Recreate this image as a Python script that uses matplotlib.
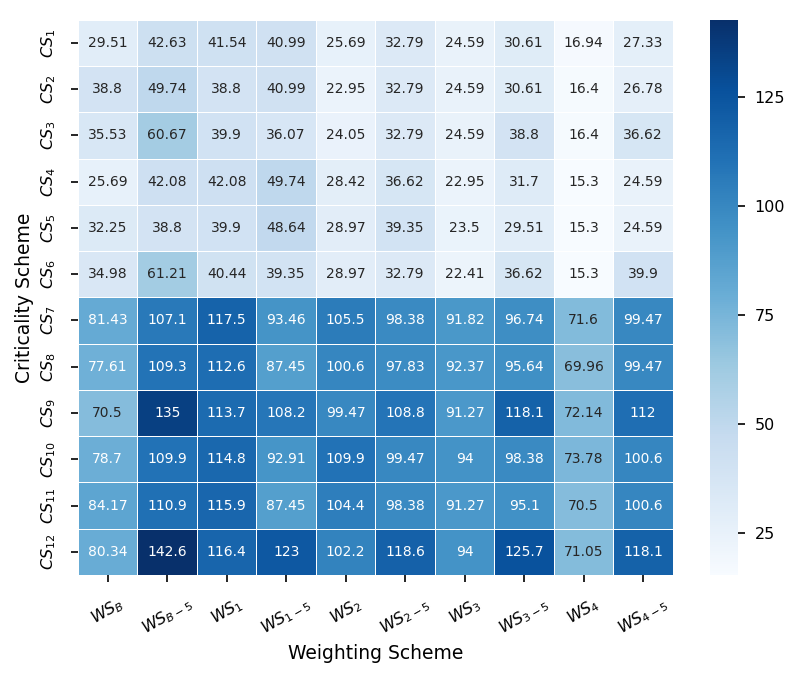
import numpy as np
import matplotlib
matplotlib.use("Agg")
import matplotlib.pyplot as plt
import seaborn as sns

# weighting schemes (columns) and criticality schemes (rows)
ws_labels = [r"$WS_{B}$", r"$WS_{B-5}$", r"$WS_{1}$", r"$WS_{1-5}$", r"$WS_{2}$",
             r"$WS_{2-5}$", r"$WS_{3}$", r"$WS_{3-5}$", r"$WS_{4}$", r"$WS_{4-5}$"]
cs_labels = [r"$CS_{%d}$" % i for i in range(1, 13)]

cs1 = [29.51, 42.63, 41.54, 40.99, 25.69, 32.79, 24.59, 30.61, 16.94, 27.33]
cs2 = [38.8, 49.74, 38.8, 40.99, 22.95, 32.79, 24.59, 30.61, 16.4, 26.78]
cs3 = [35.53, 60.67, 39.9, 36.07, 24.05, 32.79, 24.59, 38.8, 16.4, 36.62]
cs4 = [25.69, 42.08, 42.08, 49.74, 28.42, 36.62, 22.95, 31.7, 15.3, 24.59]
cs5 = [32.25, 38.8, 39.9, 48.64, 28.97, 39.35, 23.5, 29.51, 15.3, 24.59]
cs6 = [34.98, 61.21, 40.44, 39.35, 28.97, 32.79, 22.41, 36.62, 15.3, 39.9]
cs7 = [81.43, 107.1, 117.5, 93.46, 105.5, 98.38, 91.82, 96.74, 71.6, 99.47]
cs8 = [77.61, 109.3, 112.6, 87.45, 100.6, 97.83, 92.37, 95.64, 69.96, 99.47]
cs9 = [70.5, 135, 113.7, 108.2, 99.47, 108.8, 91.27, 118.1, 72.14, 112]
cs10 = [78.7, 109.9, 114.8, 92.91, 109.9, 99.47, 94, 98.38, 73.78, 100.6]
cs11 = [84.17, 110.9, 115.9, 87.45, 104.4, 98.38, 91.27, 95.1, 70.5, 100.6]
cs12 = [80.34, 142.6, 116.4, 123, 102.2, 118.6, 94, 125.7, 71.05, 118.1]

data = np.array([cs1, cs2, cs3, cs4, cs5, cs6, cs7, cs8, cs9, cs10, cs11, cs12])

sns.set_style("white")
fig = plt.figure(figsize=(8.03, 6.82), dpi=100)
ax = fig.add_axes([0.097, 0.157, 0.741, 0.814])
cax = fig.add_axes([0.884, 0.157, 0.035, 0.814])

sns.heatmap(data, ax=ax, cbar_ax=cax, cmap="Blues", annot=True, fmt=".4g",
            linewidths=0.5, linecolor="white",
            annot_kws={"fontsize": 10},
            xticklabels=ws_labels, yticklabels=cs_labels)

ax.tick_params(axis="both", bottom=True, left=True, length=5, width=1.2,
               labelsize=11.5, colors="black")
ax.tick_params(axis="x", pad=9)
ax.tick_params(axis="y", pad=9)
ax.set_xticklabels(ws_labels, rotation=30)
ax.set_yticklabels(cs_labels, rotation=90, va="center")
ax.set_xlabel("Weighting Scheme", fontsize=13.5, color="black")
ax.set_ylabel("Criticality Scheme", fontsize=13.5, color="black")
cax.tick_params(right=True, labelsize=11.5, length=5, width=1.2, pad=7,
                colors="black")
cax.set_yticks([25, 50, 75, 100, 125])

fig.savefig("out.png", dpi=100)
